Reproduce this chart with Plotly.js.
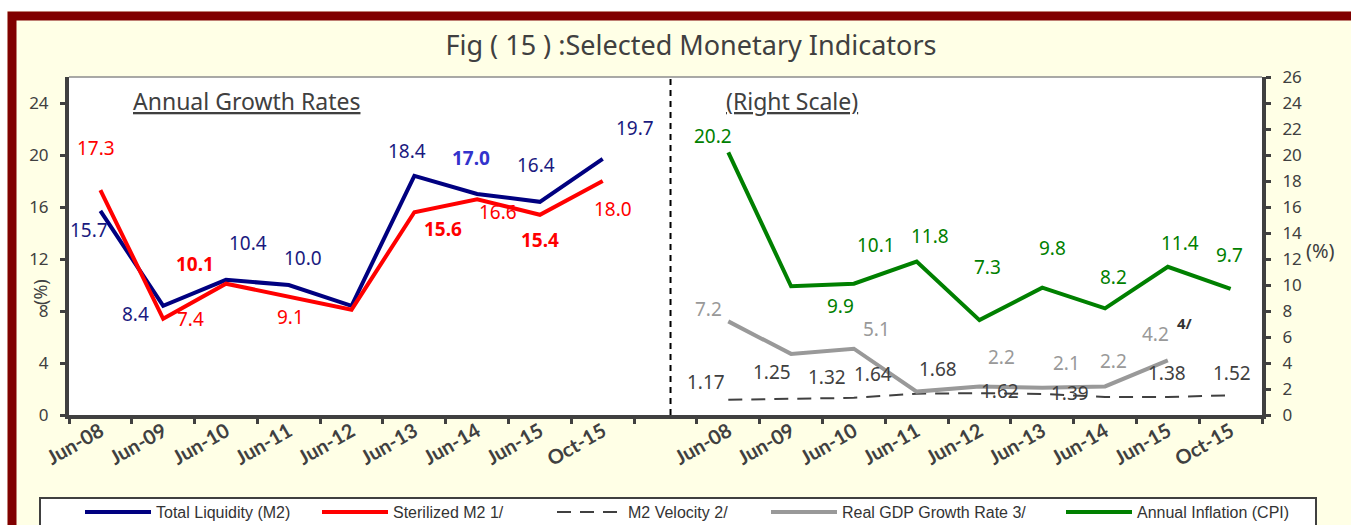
<!DOCTYPE html>
<html>
<head>
<meta charset="utf-8">
<script src="https://cdn.plot.ly/plotly-3.0.1.min.js"></script>
<style>
html,body{margin:0;padding:0;background:#ffffff;}
#chart{width:1351px;height:525px;}
</style>
</head>
<body>
<div id="chart"></div>
<script>
// ---------------- DATA ----------------
const categories = ['Jun-08','Jun-09','Jun-10','Jun-11','Jun-12','Jun-13','Jun-14','Jun-15','Oct-15'];
const totalLiquidityM2 = [15.7, 8.4, 10.4, 10.0, 8.4, 18.4, 17.0, 16.4, 19.7];
const sterilizedM2 = [17.3, 7.4, 10.1, 9.1, 8.1, 15.6, 16.6, 15.4, 18.0];
const m2Velocity = [1.17, 1.25, 1.32, 1.64, 1.68, 1.62, 1.39, 1.38, 1.52];
const realGdpGrowth = [7.2, 4.7, 5.1, 1.8, 2.2, 2.1, 2.2, 4.2];
const annualInflationCPI = [20.2, 9.9, 10.1, 11.8, 7.3, 9.8, 8.2, 11.4, 9.7];
const leftTicks = [0, 4, 8, 12, 16, 20, 24];
const rightTicks = [0, 2, 4, 6, 8, 10, 12, 14, 16, 18, 20, 22, 24, 26];
const seriesNames = ['Total Liquidity (M2)', 'Sterilized M2 1/', 'M2 Velocity 2/', 'Real GDP Growth Rate 3/', 'Annual Inflation (CPI)'];

// ---------------- LABEL PLACEMENT (pixel offsets: dx right, dy down) ----------------
const m2LabelOffsets = [[-11,19],[-28,8],[22,-37],[14,-27],null,[-7,-25],[-6,-36],[-4,-37],[32,-31]];
const sterLabelOffsets = [[-4,-42],[27,0],[-31,-20],[2,20],null,[29,17],[21,13],[0,25],[10,28]];
const velLabelOffsets = [[-22,-18],[-19,-27],[-27,-21],[-44,-20],[-41,-24],[-42,-3],[-35,-4],[-1,-24],[1,-22]];
const gdpLabelOffsets = [[-20,-12],null,[23,-20],null,[22,-29],[24,-25],[8,-25],[-12,-26]];
const cpiLabelOffsets = [[-15,-16],[49,20],[22,-39],[13,-26],[8,-53],[10,-40],[8,-31],[12,-24],[-1,-34]];
const m2Bold = [false,false,false,false,false,false,true,false,false];
const sterBold = [false,false,true,false,false,true,false,true,false];

// ---------------- GEOMETRY ----------------
const W = 1351, H = 525;
const PL = 69, PR = 1262, PT = 77, PB = 415;
const px = x => (x - PL) / (PR - PL);
const py = y => (PB - y) / (PB - PT);

const leftX = categories.map((_, i) => i);
const rightX = categories.map((_, i) => i + categories.length + 1);
const nSlots = categories.length * 2 + 1;
const boundaries = Array.from({length: nSlots + 1}, (_, i) => i - 0.5);
const labelVals = leftX.concat(rightX);
const labelText = categories.concat(categories);

const COL = {navy:'#000080', red:'#FF0000', green:'#008000', gray:'#999999', dark:'#404040'};
const numFont = 'Noto Sans, DejaVu Sans, sans-serif';

const traces = [
  {x:leftX, y:totalLiquidityM2, name:seriesNames[0], type:'scatter', mode:'lines',
   line:{color:COL.navy, width:4}, xaxis:'x', yaxis:'y', legend:'legend'},
  {x:leftX, y:sterilizedM2, name:seriesNames[1], type:'scatter', mode:'lines',
   line:{color:COL.red, width:4}, xaxis:'x', yaxis:'y', legend:'legend2'},
  {x:rightX, y:m2Velocity, name:seriesNames[2], type:'scatter', mode:'lines',
   line:{color:COL.dark, width:2, dash:'14px,9px'}, xaxis:'x2', yaxis:'y2', legend:'legend3'},
  {x:rightX.slice(0, realGdpGrowth.length), y:realGdpGrowth, name:seriesNames[3], type:'scatter', mode:'lines',
   line:{color:COL.gray, width:4}, xaxis:'x2', yaxis:'y2', legend:'legend4'},
  {x:rightX, y:annualInflationCPI, name:seriesNames[4], type:'scatter', mode:'lines',
   line:{color:COL.green, width:4}, xaxis:'x2', yaxis:'y2', legend:'legend5'}
];

const annotations = [];
function addLabels(xs, ys, offsets, axisX, axisY, fmt, colorFn, boldFn) {
  ys.forEach((v, i) => {
    const o = offsets[i];
    if (!o || v == null) return;
    annotations.push({
      x: xs[i], y: v, xref: axisX, yref: axisY, text: v.toFixed(fmt),
      xanchor: 'center', yanchor: 'middle',
      showarrow: false, xshift: o[0], yshift: -o[1],
      font: {family: numFont, size: 19, color: colorFn(i), weight: boldFn(i) ? 'bold' : 'normal'}
    });
  });
}
addLabels(leftX, totalLiquidityM2, m2LabelOffsets, 'x', 'y', 1, i => m2Bold[i] ? '#3333CC' : '#1A1A80', i => m2Bold[i]);
addLabels(leftX, sterilizedM2, sterLabelOffsets, 'x', 'y', 1, () => COL.red, i => sterBold[i]);
addLabels(rightX, m2Velocity, velLabelOffsets, 'x2', 'y2', 2, () => COL.dark, () => false);
addLabels(rightX, realGdpGrowth, gdpLabelOffsets, 'x2', 'y2', 1, () => COL.gray, () => false);
addLabels(rightX, annualInflationCPI, cpiLabelOffsets, 'x2', 'y2', 1, () => COL.green, () => false);

// footnote marker next to last GDP value
annotations.push({x: rightX[realGdpGrowth.length - 1], y: realGdpGrowth[realGdpGrowth.length - 1],
  xref:'x2', yref:'y2', text:'4/', showarrow:false, xshift:17, yshift:37, xanchor:'center', yanchor:'middle',
  font:{family:numFont, size:15, color:'#333333', weight:'bold'}});

// panel captions & axis unit labels
function paperText(text, x, y, size, angle) {
  return {x: px(x), y: py(y), xref:'paper', yref:'paper', text: text, textangle: angle || 0,
    xanchor:'center', yanchor:'middle', showarrow:false, font:{family:numFont, size:size, color:COL.dark}};
}
annotations.push(paperText('<u>Annual Growth Rates</u>', 246, 101, 23));
annotations.push(paperText('<u>(Right Scale)</u>', 792, 101, 23));
annotations.push(paperText('(%)', 40, 292, 18, -90));
annotations.push(paperText('(%)', 1320, 250, 20));

const shapes = [
  // white strip above / left of frame
  {type:'rect', xref:'paper', yref:'paper', x0:px(-5), x1:px(W+5), y0:py(-5), y1:py(11), fillcolor:'#ffffff', line:{width:0}, layer:'below'},
  {type:'rect', xref:'paper', yref:'paper', x0:px(-5), x1:px(7), y0:py(-5), y1:py(H+5), fillcolor:'#ffffff', line:{width:0}, layer:'below'},
  // maroon frame
  {type:'rect', xref:'paper', yref:'paper', x0:px(12), x1:px(W+40), y0:py(16), y1:py(H+40), fillcolor:'rgba(0,0,0,0)', line:{color:'#800000', width:9}, layer:'below'},
  // thin top border of plot area
  {type:'line', xref:'paper', yref:'paper', x0:0, x1:1, y0:1, y1:1, line:{color:'#8c8c8c', width:1.5}},
  // dashed divider
  {type:'line', xref:'x', yref:'paper', x0:categories.length + 0.08, x1:categories.length + 0.08, y0:0, y1:1,
   line:{color:'#000000', width:2, dash:'6px,5px'}},
  // legend box
  {type:'rect', xref:'paper', yref:'paper', x0:px(40), x1:px(1316), y0:py(498), y1:py(H+30), fillcolor:'#ffffff', line:{color:COL.dark, width:2}, layer:'below'}
];

const legendStarts = [84, 321, 556, 770, 1065];
function legendAt(xPix) {
  return {x: px(xPix - 4), y: py(495), xref:'paper', yref:'paper', xanchor:'left', yanchor:'top',
    orientation:'h', bgcolor:'rgba(0,0,0,0)', borderwidth:0, itemwidth:66,
    font:{family:'Liberation Sans, Arial, sans-serif', size:16, color:'#333333'}};
}

const axisBase = {showgrid:false, zeroline:false, fixedrange:true, automargin:false};
const layout = {
  width: W, height: H,
  margin: {l: PL, r: W - PR, t: PT, b: H - PB, pad: 0, autoexpand: false},
  paper_bgcolor: '#FFFFE6',
  plot_bgcolor: '#ffffff',
  hovermode: false,
  title: {text: 'Fig ( 15 ) :Selected Monetary Indicators', x: 691 / W, xref: 'container', xanchor: 'center',
    y: 1 - 46 / H, yref: 'container', yanchor: 'middle',
    font: {family: numFont, size: 27, color: COL.dark}},
  xaxis: Object.assign({}, axisBase, {range: [-0.5, nSlots - 0.5], tickvals: boundaries, ticktext: boundaries.map(() => ''),
    ticks: 'outside', ticklen: 5, tickwidth: 3, tickcolor: COL.dark, showline: true, linewidth: 4, linecolor: COL.dark}),
  xaxis2: Object.assign({}, axisBase, {overlaying: 'x', anchor: 'y2', side: 'bottom', range: [-0.5, nSlots - 0.5],
    tickvals: labelVals, ticktext: labelText, ticks: '', showline: false, tickangle: -30,
    tickfont: {family: 'Lato, sans-serif', size: 20, color: COL.dark, weight: 'bold'}}),
  yaxis: Object.assign({}, axisBase, {range: [0, 26], tickvals: leftTicks, ticks: 'outside', ticklen: 5, tickwidth: 3,
    tickcolor: COL.dark, showline: true, linewidth: 4, linecolor: COL.dark, ticklabelstandoff: 8,
    tickfont: {family: numFont, size: 17, color: COL.dark}}),
  yaxis2: Object.assign({}, axisBase, {overlaying: 'y', side: 'right', range: [0, 26], tickvals: rightTicks, ticks: 'outside',
    ticklen: 5, tickwidth: 3, tickcolor: COL.dark, showline: true, linewidth: 4, linecolor: COL.dark, ticklabelstandoff: 8,
    tickfont: {family: numFont, size: 17, color: COL.dark}}),
  legend: legendAt(legendStarts[0]),
  legend2: legendAt(legendStarts[1]),
  legend3: legendAt(legendStarts[2]),
  legend4: legendAt(legendStarts[3]),
  legend5: legendAt(legendStarts[4]),
  showlegend: true,
  annotations: annotations,
  shapes: shapes
};

Plotly.newPlot('chart', traces, layout, {staticPlot: true, displayModeBar: false});
</script>
</body>
</html>
